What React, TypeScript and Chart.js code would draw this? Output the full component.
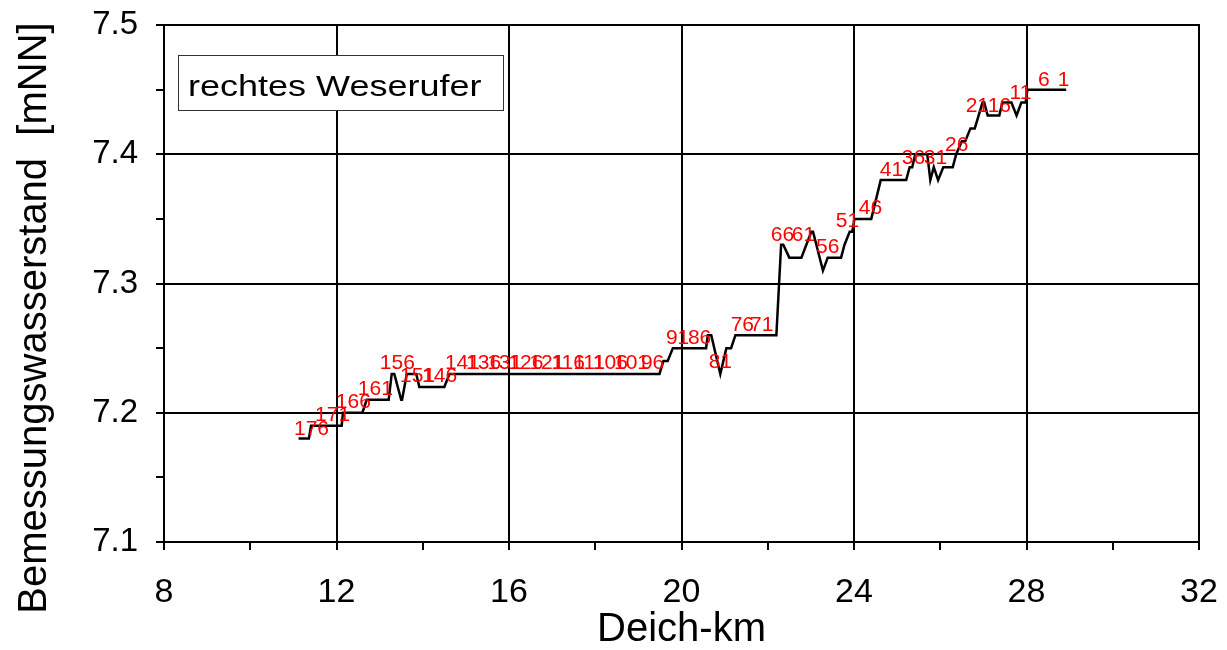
import React, { useEffect, useRef } from "react";
import { Chart, registerables } from "chart.js";

Chart.register(...registerables);

// Deich-km of the line's vertices
const km = [
  11.12, 11.36, 11.41, 12.12, 12.15, 12.6, 12.7, 13.21, 13.28, 13.34, 13.5, 13.52, 13.63, 13.85,
  13.92, 14.5, 14.62, 19.49, 19.58, 19.68, 19.8, 20.57, 20.61, 20.69, 20.9, 21.04, 21.15, 21.25,
  22.2, 22.31, 22.36, 22.5, 22.78, 23.01, 23.05, 23.28, 23.39, 23.7, 23.78, 23.9, 23.96, 24.01,
  24.4, 24.62, 25.21, 25.29, 25.35, 25.42, 25.7, 25.77, 25.85, 25.95, 26.07, 26.29, 26.37, 26.5,
  26.58, 26.7, 26.8, 26.98, 27.02, 27.1, 27.37, 27.44, 27.65, 27.77, 27.88, 27.98, 28.02, 28.92,
];
// Bemessungswasserstand [mNN]
const level = [
  7.18, 7.18, 7.19, 7.19, 7.2, 7.2, 7.21, 7.21, 7.23, 7.23, 7.21, 7.21, 7.23, 7.23,
  7.22, 7.22, 7.23, 7.23, 7.24, 7.24, 7.25, 7.25, 7.26, 7.26, 7.23, 7.25, 7.25, 7.26,
  7.26, 7.33, 7.33, 7.32, 7.32, 7.34, 7.34, 7.31, 7.32, 7.32, 7.33, 7.34, 7.34, 7.35,
  7.35, 7.38, 7.38, 7.39, 7.39, 7.4, 7.4, 7.38, 7.39, 7.38, 7.39, 7.39, 7.4, 7.41,
  7.41, 7.42, 7.42, 7.44, 7.44, 7.43, 7.43, 7.44, 7.44, 7.43, 7.44, 7.44, 7.45, 7.45,
];

// station labels (red)
const stationText = [
  "176", "171", "166", "161", "156", "151", "146", "141", "136", "131", "126", "121", "116",
  "111", "106", "101", "96", "91", "86", "81", "76", "71", "66", "61", "56", "51", "46", "41",
  "36", "31", "26", "21", "16", "11", "6", "1",
];
const stationKm = [
  11.42, 11.91, 12.39, 12.9, 13.41, 13.88, 14.39, 14.92, 15.41, 15.9, 16.39, 16.88, 17.37,
  17.86, 18.35, 18.84, 19.33, 19.91, 20.42, 20.9, 21.41, 21.86, 22.34, 22.83, 23.39, 23.85,
  24.38, 24.87, 25.38, 25.89, 26.38, 26.86, 27.37, 27.86, 28.4, 28.86,
];
const stationLevel = [
  7.187, 7.198, 7.208, 7.218, 7.238, 7.228, 7.228, 7.238, 7.238, 7.238, 7.238, 7.238, 7.238,
  7.238, 7.238, 7.238, 7.238, 7.258, 7.258, 7.239, 7.268, 7.268, 7.337, 7.337, 7.328, 7.348,
  7.358, 7.388, 7.397, 7.397, 7.407, 7.437, 7.437, 7.447, 7.457, 7.457,
];

const xMin = 8;
const xMax = 32;
const yMin = 7.1;
const yMax = 7.5;
const legendText = "rechtes Weserufer";
const yTitle = "Bemessungswasserstand  [mNN]";
const xTitle = "Deich-km";

const FONT = "'Liberation Sans', Arial, sans-serif";

const overlayPlugin = {
  id: "overlay",
  afterDatasetsDraw(chart: any) {
    const { ctx, chartArea, scales } = chart;
    const xs = scales.x;
    const ys = scales.y;
    ctx.save();
    // frame
    ctx.strokeStyle = "#000";
    ctx.lineWidth = 2;
    ctx.strokeRect(chartArea.left, chartArea.top, chartArea.right - chartArea.left, chartArea.bottom - chartArea.top);
    // station labels
    ctx.fillStyle = "#ff0000";
    ctx.font = `21px ${FONT}`;
    ctx.textAlign = "center";
    ctx.textBaseline = "middle";
    for (let i = 0; i < stationText.length; i++) {
      ctx.fillText(stationText[i], xs.getPixelForValue(stationKm[i]), ys.getPixelForValue(stationLevel[i]));
    }
    // legend box
    const bx = chartArea.left + 14;
    const by = chartArea.top + 30;
    ctx.fillStyle = "#fff";
    ctx.fillRect(bx, by, 325, 55);
    ctx.strokeStyle = "#333";
    ctx.lineWidth = 1;
    ctx.strokeRect(bx + 0.5, by + 0.5, 325, 55);
    ctx.fillStyle = "#000";
    ctx.textAlign = "left";
    ctx.textBaseline = "alphabetic";
    ctx.font = `30px ${FONT}`;
    ctx.save();
    ctx.translate(bx + 10, by + 41);
    ctx.scale(1.2, 1);
    ctx.fillText(legendText, 0, 0);
    ctx.restore();
    // y title
    ctx.save();
    ctx.translate(35, 318);
    ctx.rotate(-Math.PI / 2);
    ctx.textAlign = "center";
    ctx.textBaseline = "middle";
    ctx.font = `40px ${FONT}`;
    ctx.fillStyle = "#000";
    ctx.fillText(yTitle, 0, 0);
    ctx.restore();
    ctx.restore();
  },
};

const isMultiple = (v: number, step: number) => Math.abs(v / step - Math.round(v / step)) < 1e-6;

export default function App() {
  const ref = useRef<HTMLCanvasElement>(null);
  useEffect(() => {
    if (!ref.current) return;
    const chart = new Chart(ref.current, {
      type: "line",
      data: {
        datasets: [
          {
            data: km.map((k, i) => ({ x: k, y: level[i] })),
            borderColor: "#000",
            borderWidth: 2.5,
            pointRadius: 0,
            tension: 0,
            fill: false,
          },
        ],
      },
      options: {
        animation: false,
        responsive: true,
        maintainAspectRatio: false,
        layout: { padding: { top: 25, right: 28, left: 0, bottom: 0 } },
        plugins: { legend: { display: false }, tooltip: { enabled: false } },
        scales: {
          x: {
            type: "linear",
            min: xMin,
            max: xMax,
            afterFit: (s: any) => {
              s.height = 108;
              s.paddingLeft = 0;
              s.paddingRight = 0;
            },
            ticks: {
              stepSize: 2,
              autoSkip: false,
              maxRotation: 0,
              padding: 22,
              color: "#000",
              font: { family: FONT, size: 34 },
              callback: (v: any) => (isMultiple(Number(v), 4) ? String(Math.round(Number(v))) : ""),
            },
            grid: {
              color: (c: any) => (isMultiple(c.tick.value, 4) ? "#000" : "rgba(0,0,0,0)"),
              tickColor: "#000",
              lineWidth: 2,
              tickLength: 8,
            },
            border: { display: true, color: "#000", width: 2 },
            title: {
              display: true,
              text: xTitle,
              color: "#000",
              font: { family: FONT, size: 40, lineHeight: 1.0 },
              padding: { top: 0, bottom: 0 },
            },
          },
          y: {
            type: "linear",
            min: yMin,
            max: yMax,
            afterFit: (s: any) => {
              s.width = 164;
              s.paddingTop = 0;
              s.paddingBottom = 0;
            },
            ticks: {
              stepSize: 0.05,
              autoSkip: false,
              padding: 18,
              color: "#000",
              font: { family: FONT, size: 33 },
              callback: (v: any) => (isMultiple(Number(v), 0.1) ? Number(v).toFixed(1) : ""),
            },
            grid: {
              color: (c: any) => (isMultiple(c.tick.value, 0.1) ? "#000" : "rgba(0,0,0,0)"),
              tickColor: "#000",
              lineWidth: 2,
              tickLength: 8,
            },
            border: { display: true, color: "#000", width: 2 },
          },
        },
      },
      plugins: [overlayPlugin],
    });
    return () => chart.destroy();
  }, []);
  return (
    <div style={{ position: "absolute", left: 0, top: 0, width: 1227, height: 650, background: "#fff" }}>
      <canvas ref={ref} />
    </div>
  );
}
